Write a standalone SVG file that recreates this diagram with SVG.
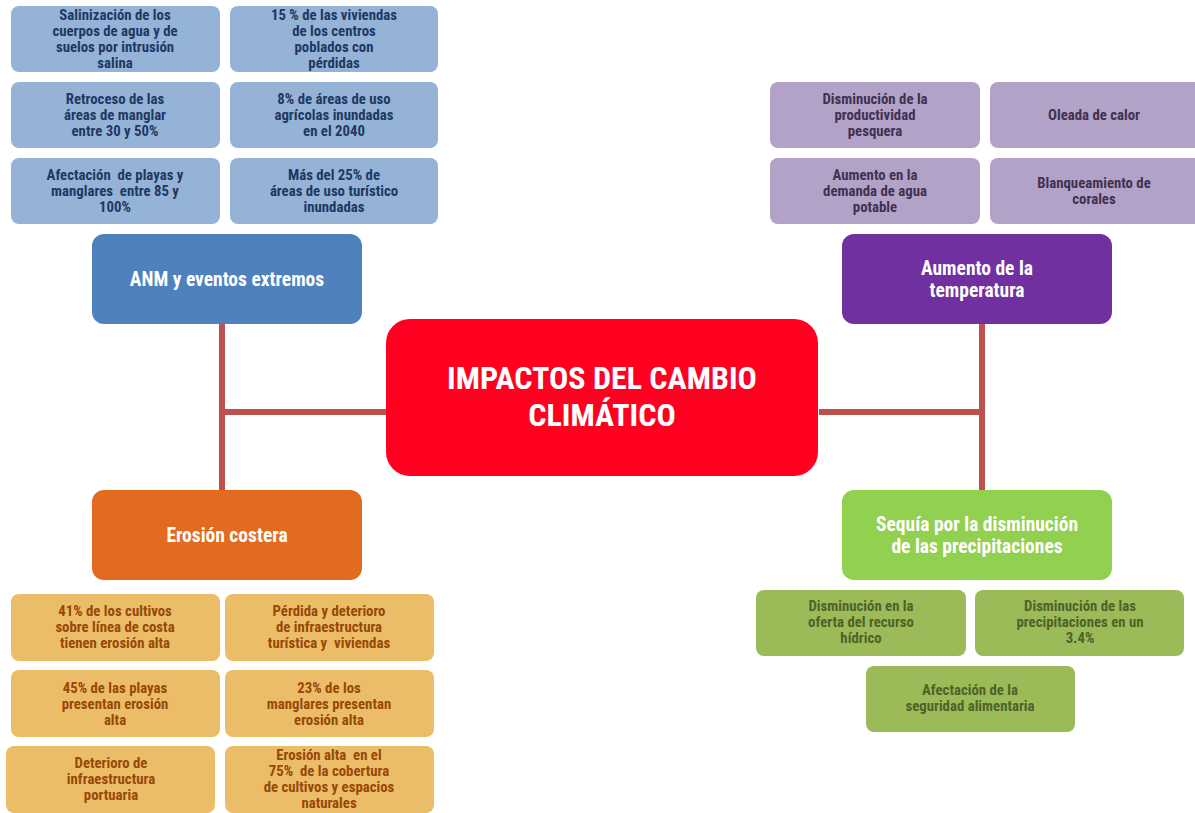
<svg xmlns="http://www.w3.org/2000/svg" width="1195" height="813" viewBox="0 0 1195 813">
<defs>
<style>
text{font-family:"Liberation Sans Narrow","Roboto Condensed","DejaVu Sans Condensed","Liberation Sans",sans-serif;font-weight:bold;text-anchor:middle;white-space:pre}
.s{font-size:14.8px}
.blue rect{fill:#95b3d7}.blue text{fill:#1f3864}
.purple rect{fill:#b3a2c7}.purple text{fill:#3f3151}
.orange rect{fill:#ecbd68}.orange text{fill:#984807}
.green rect{fill:#9bbb59}.green text{fill:#4f6228}
.main text{fill:#fff;font-size:19.5px}
.title{font-size:32px;fill:#fff}
.conn{stroke:#c0504d;stroke-width:6;fill:none}
</style>
</defs>
<rect width="1195" height="813" fill="#fff"/>
<g id="connectors">
<path class="conn" d="M222 324V490M222 412H386"/>
<path class="conn" d="M982 324V490M982 412H819"/>
</g>
<g id="center">
<rect x="386" y="319" width="432" height="157" rx="24" fill="#ff0020"/>
<text class="title" x="602" y="389">IMPACTOS DEL CAMBIO</text>
<text class="title" x="602" y="426">CLIMÁTICO</text>
</g>
<g id="anm" class="main">
<rect x="92" y="234" width="270" height="90" rx="12" fill="#4f81bd"/>
<text x="227" y="286">ANM y eventos extremos</text>
</g>
<g id="temp" class="main">
<rect x="842" y="234" width="270" height="90" rx="12" fill="#7030a0"/>
<text x="977" y="275">Aumento de la</text>
<text x="977" y="297">temperatura</text>
</g>
<g id="erosion" class="main">
<rect x="92" y="490" width="270" height="90" rx="12" fill="#e26b1f"/>
<text x="227" y="542">Erosión costera</text>
</g>
<g id="sequia" class="main">
<rect x="842" y="490" width="270" height="90" rx="12" fill="#92d050"/>
<text x="977" y="531">Sequía por la disminución</text>
<text x="977" y="553">de las precipitaciones</text>
</g>
<g id="b1" class="blue s"><rect x="11" y="6" width="209" height="66" rx="8"/><text x="115" y="20">Salinización de los</text><text x="115" y="36">cuerpos de agua y de</text><text x="115" y="52">suelos por intrusión</text><text x="115" y="68">salina</text></g>
<g id="b2" class="blue s"><rect x="230" y="6" width="208" height="66" rx="8"/><text x="334" y="20">15 % de las viviendas</text><text x="334" y="36">de los centros</text><text x="334" y="52">poblados con</text><text x="334" y="68">pérdidas</text></g>
<g id="b3" class="blue s"><rect x="11" y="82" width="209" height="66" rx="8"/><text x="115" y="104">Retroceso de las</text><text x="115" y="120">áreas de manglar</text><text x="115" y="136">entre 30 y 50%</text></g>
<g id="b4" class="blue s"><rect x="230" y="82" width="208" height="66" rx="8"/><text x="334" y="104">8% de áreas de uso</text><text x="334" y="120">agrícolas inundadas</text><text x="334" y="136">en el 2040</text></g>
<g id="b5" class="blue s"><rect x="11" y="158" width="209" height="66" rx="8"/><text x="115" y="180">Afectación  de playas y</text><text x="115" y="196">manglares  entre 85 y</text><text x="115" y="212">100%</text></g>
<g id="b6" class="blue s"><rect x="230" y="158" width="208" height="66" rx="8"/><text x="334" y="180">Más del 25% de</text><text x="334" y="196">áreas de uso turístico</text><text x="334" y="212">inundadas</text></g>
<g id="p1" class="purple s"><rect x="770" y="82" width="210" height="66" rx="8"/><text x="875" y="104">Disminución de la</text><text x="875" y="120">productividad</text><text x="875" y="136">pesquera</text></g>
<g id="p2" class="purple s"><rect x="990" y="82" width="215" height="66" rx="8"/><text x="1094" y="120">Oleada de calor</text></g>
<g id="p3" class="purple s"><rect x="770" y="158" width="210" height="66" rx="8"/><text x="875" y="180">Aumento en la</text><text x="875" y="196">demanda de agua</text><text x="875" y="212">potable</text></g>
<g id="p4" class="purple s"><rect x="990" y="158" width="215" height="66" rx="8"/><text x="1094" y="188">Blanqueamiento de</text><text x="1094" y="204">corales</text></g>
<g id="o1" class="orange s"><rect x="11" y="594" width="209" height="67" rx="8"/><text x="115" y="616">41% de los cultivos</text><text x="115" y="632">sobre línea de costa</text><text x="115" y="648">tienen erosión alta</text></g>
<g id="o2" class="orange s"><rect x="225" y="594" width="209" height="67" rx="8"/><text x="329" y="616">Pérdida y deterioro</text><text x="329" y="632">de infraestructura</text><text x="329" y="648">turística y  viviendas</text></g>
<g id="o3" class="orange s"><rect x="11" y="670" width="209" height="67" rx="8"/><text x="115" y="693">45% de las playas</text><text x="115" y="709">presentan erosión</text><text x="115" y="725">alta</text></g>
<g id="o4" class="orange s"><rect x="225" y="670" width="209" height="67" rx="8"/><text x="329" y="693">23% de los</text><text x="329" y="709">manglares presentan</text><text x="329" y="725">erosión alta</text></g>
<g id="o5" class="orange s"><rect x="6" y="746" width="209" height="67" rx="8"/><text x="111" y="768">Deterioro de</text><text x="111" y="784">infraestructura</text><text x="111" y="800">portuaria</text></g>
<g id="o6" class="orange s"><rect x="225" y="746" width="209" height="67" rx="8"/><text x="329" y="760">Erosión alta  en el</text><text x="329" y="776">75%  de la cobertura</text><text x="329" y="792">de cultivos y espacios</text><text x="329" y="808">naturales</text></g>
<g id="g1" class="green s"><rect x="756" y="590" width="210" height="66" rx="8"/><text x="861" y="611">Disminución en la</text><text x="861" y="627">oferta del recurso</text><text x="861" y="643">hídrico</text></g>
<g id="g2" class="green s"><rect x="975" y="590" width="209" height="66" rx="8"/><text x="1080" y="611">Disminución de las</text><text x="1080" y="627">precipitaciones en un</text><text x="1080" y="643">3.4%</text></g>
<g id="g3" class="green s"><rect x="866" y="666" width="209" height="66" rx="8"/><text x="970" y="695">Afectación de la</text><text x="970" y="711">seguridad alimentaria</text></g>
</svg>
